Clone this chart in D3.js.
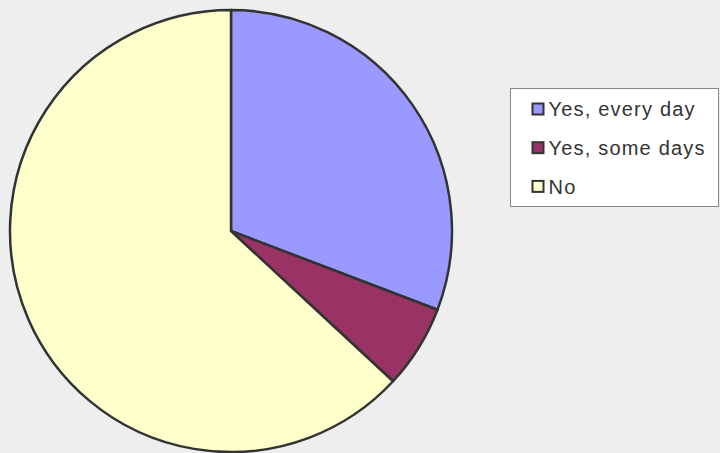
<!DOCTYPE html>
<html>
<head>
<meta charset="utf-8">
<script src="https://cdn.jsdelivr.net/npm/d3@7"></script>
<style>
  body { margin: 0; background: #eeeeee; }
</style>
</head>
<body>
<script>
let svgWidth = 720;
let svgHeight = 453;

// values (share of answers)
let categories = ["Yes, every day", "Yes, some days", "No"];
let values = [30.8, 6.1, 63.1];
let colors = ["#9999ff", "#993366", "#ffffcc"];

let svg = d3.select("body")
    .append("svg")
    .attr("width", svgWidth)
    .attr("height", svgHeight);

svg.append("rect")
    .attr("width", svgWidth)
    .attr("height", svgHeight)
    .attr("fill", "#eeeeee");

let radius = 221;
let pieGroup = svg.append("g")
    .attr("transform", `translate(231, 231)`);

let pie = d3.pie().sort(null).value(d => d);
let arc = d3.arc().innerRadius(0).outerRadius(radius);

pieGroup.selectAll("path")
    .data(pie(values))
    .enter()
    .append("path")
    .attr("d", arc)
    .attr("fill", (d, i) => colors[i])
    .attr("stroke", "#333333")
    .attr("stroke-width", 2.5)
    .attr("stroke-linejoin", "round");

// Legend
let legend = svg.append("g")
    .attr("transform", `translate(510.5, 88.5)`);

legend.append("rect")
    .attr("width", 208)
    .attr("height", 118)
    .attr("fill", "#ffffff")
    .attr("stroke", "#888888")
    .attr("stroke-width", 1);

let rows = legend.selectAll(".row")
    .data(categories)
    .enter()
    .append("g")
    .attr("class", "row")
    .attr("transform", (d, i) => `translate(22, ${20.5 + i * 38.7})`);

rows.append("rect")
    .attr("x", 0)
    .attr("y", -5.5)
    .attr("width", 11)
    .attr("height", 11)
    .attr("fill", (d, i) => colors[i])
    .attr("stroke", "#333333")
    .attr("stroke-width", 2);

rows.append("text")
    .attr("x", 16)
    .attr("y", 0)
    .attr("dy", "0.36em")
    .attr("font-family", "Liberation Sans, Arial, sans-serif")
    .attr("font-size", 20)
    .attr("letter-spacing", 1.2)
    .attr("fill", "#333333")
    .text(d => d);
</script>
</body>
</html>
